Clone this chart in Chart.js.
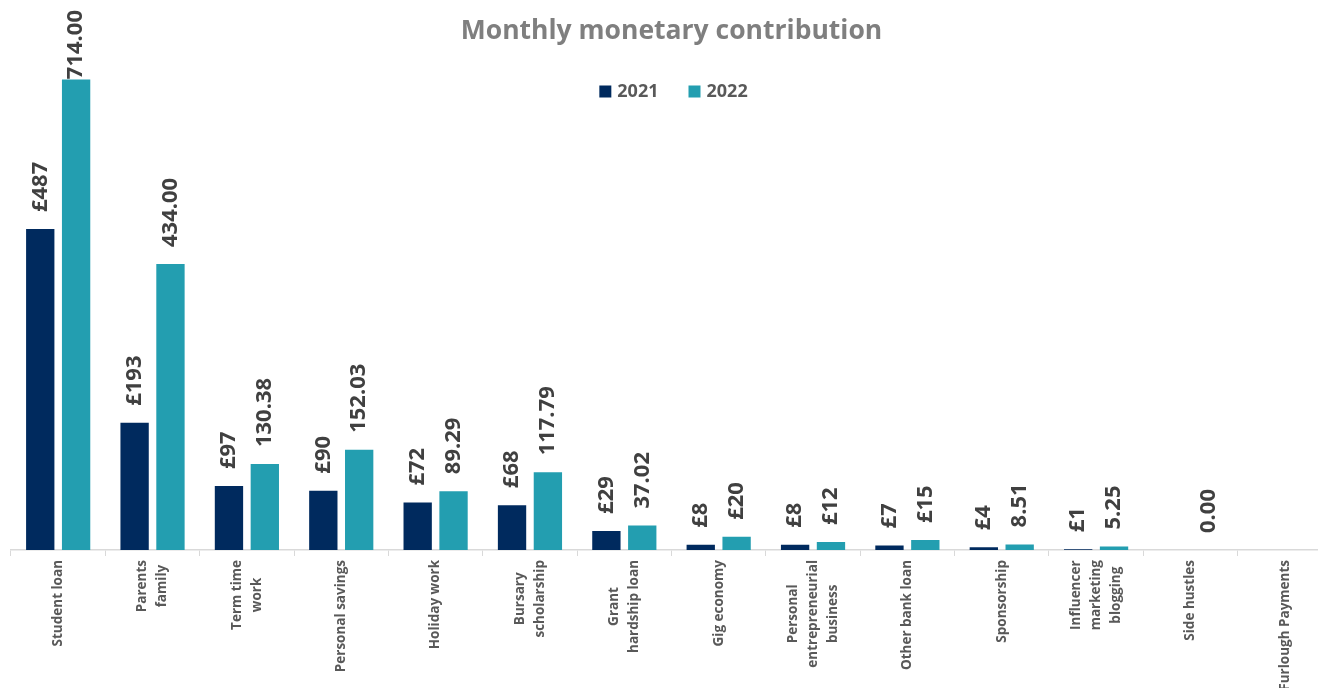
<!DOCTYPE html>
<html>
<head>
<meta charset="utf-8">
<title>Monthly monetary contribution</title>
<script src="https://cdn.jsdelivr.net/npm/chart.js@4.4.1/dist/chart.umd.min.js"></script>
<style>
    html, body { margin: 0; padding: 0; background: #fff; overflow: hidden; }
    #wrap { position: relative; width: 1336px; height: 688px; }
</style>
</head>
<body>
<div id="wrap"><canvas id="chartContribution"></canvas></div>
<script>
// categories, one array of lines per category
var categories = [
    ['Student loan'],
    ['Parents', 'family'],
    ['Term time', 'work'],
    ['Personal savings'],
    ['Holiday work'],
    ['Bursary', 'scholarship'],
    ['Grant', 'hardship loan'],
    ['Gig economy'],
    ['Personal', 'entrepreneurial', 'business'],
    ['Other bank loan'],
    ['Sponsorship'],
    ['Influencer', 'marketing', 'blogging'],
    ['Side hustles'],
    ['Furlough Payments']
]
var seriesNames = ['2021', '2022']
var values2021 = [487, 193, 97, 90, 72, 68, 29, 8, 8, 7, 4, 1, null, null]
var values2022 = [714, 434, 130.38, 152.03, 89.29, 117.79, 37.02, 20, 12, 15, 8.51, 5.25, 0, null]
// 2022 labels shown as whole pounds instead of two decimals
var pound2022 = [false, false, false, false, false, false, false, true, true, true, false, false, false, false]

Chart.defaults.font.family = "'Open Sans', sans-serif"

function labelText(d, i, v) {
    if (d === 0 || pound2022[i]) return '£' + Math.round(v)
    return v.toFixed(2)
}

// rotated value labels above the bars
var valueLabels = {
    id: 'valueLabels',
    afterDatasetsDraw: function (chart) {
        var ctx = chart.ctx
        ctx.save()
        ctx.font = 'bold 22px "Open Sans"'
        ctx.fillStyle = '#404040'
        ctx.textAlign = 'left'
        ctx.textBaseline = 'middle'
        chart.data.datasets.forEach(function (ds, d) {
            chart.getDatasetMeta(d).data.forEach(function (bar, i) {
                var v = ds.data[i]
                if (v === null || v === undefined) return
                var text = labelText(d, i, v)
                var w = ctx.measureText(text).width
                var start = Math.max(bar.y - 17, 10 + w)
                ctx.save()
                ctx.translate(bar.x, start)
                ctx.rotate(-Math.PI / 2)
                ctx.fillText(text, 0, 0)
                ctx.restore()
            })
        })
        ctx.restore()
    }
}

// category labels, rotated, lines centred on each other
var categoryLabels = {
    id: 'categoryLabels',
    afterDraw: function (chart) {
        var ctx = chart.ctx
        var xScale = chart.scales.x
        var top = chart.chartArea.bottom + 10
        ctx.save()
        ctx.font = 'bold 13.5px "Open Sans"'
        ctx.fillStyle = '#595959'
        ctx.textAlign = 'center'
        ctx.textBaseline = 'middle'
        categories.forEach(function (lines, i) {
            var x = xScale.getPixelForValue(i)
            var maxW = 0
            lines.forEach(function (l) { maxW = Math.max(maxW, ctx.measureText(l).width) })
            ctx.save()
            ctx.translate(x, top)
            ctx.rotate(-Math.PI / 2)
            lines.forEach(function (l, j) {
                ctx.fillText(l, -maxW / 2, (j - (lines.length - 1) / 2) * 20)
            })
            ctx.restore()
        })
        ctx.restore()
    }
}

// legend drawn inside the plot area, under the title
var insideLegend = {
    id: 'insideLegend',
    afterDraw: function (chart) {
        var ctx = chart.ctx
        var area = chart.chartArea
        ctx.save()
        ctx.font = 'bold 18px "Open Sans"'
        ctx.textBaseline = 'middle'
        ctx.textAlign = 'left'
        var items = chart.data.datasets.map(function (ds) {
            return { text: ds.label, color: ds.backgroundColor, w: ctx.measureText(ds.label).width }
        })
        var total = 0
        items.forEach(function (it, k) { total += 12 + 6 + it.w + (k ? 30 : 0) })
        var x = (area.left + area.right) / 2 + 2 - total / 2
        var y = 91.5
        items.forEach(function (it) {
            ctx.fillStyle = it.color
            ctx.fillRect(x, y - 6, 12, 12)
            ctx.fillStyle = '#595959'
            ctx.fillText(it.text, x + 18, y)
            x += 18 + it.w + 30
        })
        ctx.restore()
    }
}

var barData = {
    labels: categories,
    datasets: [
        {
            label: seriesNames[0],
            data: values2021,
            backgroundColor: '#002A5E',
            barPercentage: 0.79,
            categoryPercentage: 0.76
        },
        {
            label: seriesNames[1],
            data: values2022,
            backgroundColor: '#239EB0',
            barPercentage: 0.79,
            categoryPercentage: 0.76
        }
    ]
}

var barOptions = {
    responsive: true,
    maintainAspectRatio: false,
    animation: false,
    layout: { padding: { left: 11, right: 4, top: 0, bottom: 0 } },
    plugins: {
        title: {
            display: true,
            text: 'Monthly monetary contribution',
            color: '#7f7f7f',
            font: { size: 26.5, weight: 'bold' },
            padding: { top: 16, bottom: 0 }
        },
        legend: { display: false },
        tooltip: { enabled: false }
    },
    scales: {
        x: {
            grid: { display: true, drawOnChartArea: false, drawTicks: true, tickLength: 6, color: '#d9d9d9', offset: true },
            border: { display: true, color: '#d9d9d9', width: 1.5 },
            ticks: { display: false },
            afterFit: function (scale) { scale.height = 138 }
        },
        y: { display: false, min: 0, max: 762 }
    }
}

new Chart(document.getElementById('chartContribution').getContext('2d'), {
    type: 'bar',
    data: barData,
    options: barOptions,
    plugins: [valueLabels, categoryLabels, insideLegend]
})
</script>
</body>
</html>
